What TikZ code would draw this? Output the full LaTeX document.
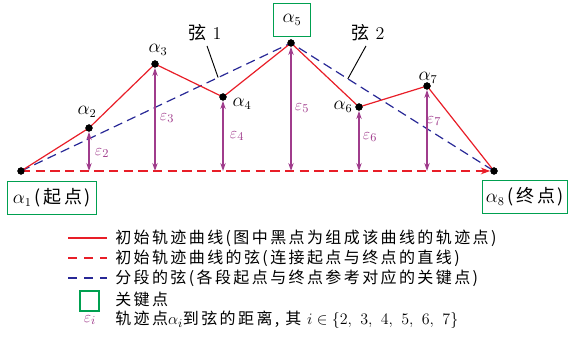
\documentclass[tikz,border=0pt]{standalone}
\usepackage{fontspec}
\newfontfamily\cjk[LetterSpace=15]{Noto Sans CJK SC}
\usetikzlibrary{positioning,arrows.meta,calc}
\definecolor{curvered}{RGB}{232,30,40}
\definecolor{chordblue}{RGB}{40,40,150}
\definecolor{keygreen}{RGB}{0,160,80}
\definecolor{epspurple}{RGB}{160,60,140}

\begin{document}
\begin{tikzpicture}[x=0.75pt,y=-0.75pt,font=\fontsize{12}{14}\selectfont,
  dot/.style={circle,fill=black,minimum size=5.4pt,inner sep=0pt},
  lab/.style={font=\fontsize{13.5}{15}\selectfont},
  key/.style={draw=keygreen,line width=1.2pt,minimum height=25pt,inner sep=2pt,
    font=\fontsize{13.5}{15}\selectfont},
  curve/.style={curvered,line width=0.9pt},
  chord/.style={curvered,line width=0.9pt,dash pattern=on 7pt off 4pt},
  segchord/.style={chordblue,line width=0.9pt,dash pattern=on 7pt off 4pt},
  eps/.style={epspurple,line width=1pt,
    {Stealth[length=6pt,width=4pt]}-{Stealth[length=6pt,width=4pt]}},
  epslab/.style={epspurple,font=\fontsize{13}{15}\selectfont}]
  \useasboundingbox (0,0) rectangle (570,341);

  % --- trajectory points ---
  \node[dot] (a1) at (21,171) {};
  \node[dot] (a2) at (89,128) {};
  \node[dot] (a3) at (155,64) {};
  \node[dot] (a4) at (223,97) {};
  \node[dot] (a5) at (291,43) {};
  \node[dot] (a6) at (359,107) {};
  \node[dot] (a7) at (427,86) {};
  \node[dot] (a8) at (494,171) {};

  % feet of the distances on the chord
  \coordinate (b2) at (89,171);
  \coordinate (b3) at (155,171);
  \coordinate (b4) at (223,171);
  \coordinate (b5) at (291,171);
  \coordinate (b6) at (359,171);
  \coordinate (b7) at (427,171);

  % --- chords ---
  \draw[chord,-{Stealth[length=7pt,width=5pt]}] (a1.center) -- (a8.west);
  \draw[segchord] (a1.center) -- (a5.center) -- (a8.center);

  % --- initial curve ---
  \draw[curve] (a1.center) -- (a2.center) -- (a3.center) -- (a4.center)
    -- (a5.center) -- (a6.center) -- (a7.center) -- (a8.center);

  % --- distances ---
  \draw[eps] (a2.south) -- (b2);
  \draw[eps] (a3.south) -- (b3);
  \draw[eps] (a4.south) -- (b4);
  \draw[eps] (a5.south) -- (b5);
  \draw[eps] (a6.south) -- (b6);
  \draw[eps] (a7.south) -- (b7);
  \node[epslab] (e2) at (102,153) {$\varepsilon_2$};
  \node[epslab] (e3) at (167,118) {$\varepsilon_3$};
  \node[epslab] (e4) at (237,136) {$\varepsilon_4$};
  \node[epslab] (e5) at (302,108) {$\varepsilon_5$};
  \node[epslab] (e6) at (370,137) {$\varepsilon_6$};
  \node[epslab] (e7) at (434,121) {$\varepsilon_7$};

  % redraw dots on top
  \foreach \i in {1,...,8} \fill (a\i) circle (2.7pt);

  % --- point labels ---
  \node[lab] (la2) at (87,112) {$\alpha_2$};
  \node[lab] (la3) at (158,50) {$\alpha_3$};
  \node[lab] (la4) at (242,104) {$\alpha_4$};
  \node[lab] (la6) at (343,107) {$\alpha_6$};
  \node[lab] (la7) at (428,78) {$\alpha_7$};
  \node[key,minimum width=28pt] (k5) at (292,20) {$\alpha_5$};
  \node[key,minimum width=67pt] (k1) at (52,198) {$\alpha_1$\,{\cjk (起点)}};
  \node[key,minimum width=64pt] (k8) at (525,197) {$\alpha_8$\,{\cjk (终点)}};

  % --- chord labels ---
  \node[lab] (c1) at (205,33) {{\cjk 弦} 1};
  \node[lab] (c2) at (368,33) {{\cjk 弦} 2};
  \coordinate (p1) at ($(a1)!0.73!(a5)$);
  \coordinate (p2) at ($(a5)!0.28!(a8)$);
  \draw[line width=0.7pt] (c1.south) ++(2,0) -- (p1);
  \draw[line width=0.7pt] (c2.south) ++(-2,0) -- (p2);

  % --- legend ---
  \coordinate (l1s) at (68,238); \coordinate (l1e) at (107,238);
  \coordinate (l2s) at (68,258); \coordinate (l2e) at (107,258);
  \coordinate (l3s) at (68,278); \coordinate (l3e) at (107,278);
  \draw[curve] (l1s) -- (l1e);
  \draw[chord,dash pattern=on 7pt off 5pt] (l2s) -- (l2e);
  \draw[segchord,dash pattern=on 7pt off 5pt] (l3s) -- (l3e);
  \node[draw=keygreen,line width=1.3pt,minimum size=14.5pt,inner sep=0pt]
    (lk) at (89.5,301) {};
  \node[epslab] (le) at (90,320) {$\varepsilon_i$};
  \node[anchor=west,inner sep=0pt] (t1) at (115,238)
    {\cjk 初始轨迹曲线(图中黑点为组成该曲线的轨迹点)};
  \node[anchor=west,inner sep=0pt] (t2) at (115,258)
    {\cjk 初始轨迹曲线的弦(连接起点与终点的直线)};
  \node[anchor=west,inner sep=0pt] (t3) at (115,278)
    {\cjk 分段的弦(各段起点与终点参考对应的关键点)};
  \node[anchor=west,inner sep=0pt] (t4) at (115,299) {\cjk 关键点};
  \node[anchor=west,inner sep=0pt,font=\fontsize{13}{15}\selectfont] (t5) at (115,320)
    {{\fontsize{12}{14}\cjk 轨迹点}$\alpha_i${\fontsize{12}{14}\cjk 到弦的距离, 其}
     $i\in\{2,\ 3,\ 4,\ 5,\ 6,\ 7\}$};
\end{tikzpicture}
\end{document}
